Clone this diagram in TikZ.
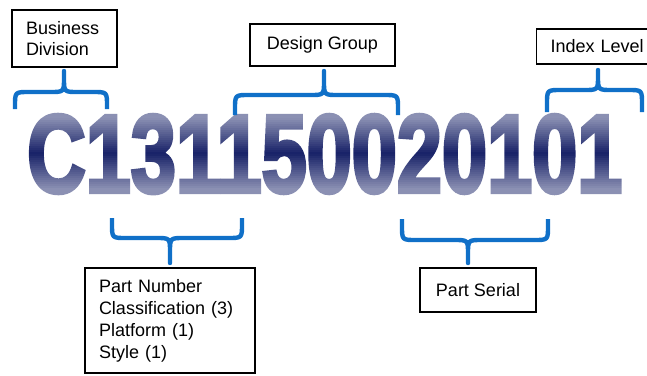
\documentclass[tikz,border=0pt]{standalone}
\usepackage{fontspec}
\setmainfont{Liberation Sans}
\newfontfamily\numfont{Liberation Sans}[BoldFeatures={FakeBold=4}]
\definecolor{braceblue}{RGB}{16,112,200}
\definecolor{numnavy}{RGB}{24,34,104}
\newcommand\drawbrace[7]{%
  \draw[brace] (#1,#4) -- (#1,{#5+14*#7}) .. controls (#1,#5) .. ({#1+14},#5) -- ({#3-14},#5) .. controls (#3,#5) .. (#3,{#5-14*#7}) -- (#3,#6) -- (#3,{#5-14*#7}) .. controls (#3,#5) .. ({#3+14},#5) -- ({#2-14},#5) .. controls (#2,#5) .. (#2,{#5+14*#7}) -- (#2,#4);}
\begin{document}
\begin{tikzpicture}[x=1pt,y=-1pt,
  brace/.style={draw=braceblue, line width=4.4pt, line join=round},
  lbox/.style={draw=black, line width=1.3pt, inner ysep=0pt, inner xsep=14pt, font=\fontsize{18}{21}\selectfont}]
\useasboundingbox (0,0) rectangle (647,375);
% code number
\node[anchor=base west, inner sep=0pt, text=numnavy] (code) at (27,192) {\resizebox{595pt}{77pt}{\numfont\bfseries C131150020101}};
\foreach \i in {0,...,41}{%
  \pgfmathsetmacro\yy{112+2*\i}%
  \pgfmathsetmacro\op{min(0.5,0.55*abs(\yy+1-153.5)/39)}%
  \fill[white, fill opacity=\op] (20,\yy) rectangle (630,\yy+2);
}
% braces
\drawbrace{15}{107}{64}{109}{92}{71}{1}
\drawbrace{235}{398}{324}{115}{95}{71}{1}
\drawbrace{547}{642}{598}{112}{90}{70}{1}
\drawbrace{112}{242}{170}{218}{238}{263}{-1}
\drawbrace{402}{548}{468}{219}{240}{263}{-1}
% boxes
\node[lbox, minimum width=105pt, minimum height=57pt, text width=77pt, align=left] (bdiv) at (64.5,38.5) {Business\\Division};
\node[lbox, minimum width=145pt, minimum height=42pt] (dgrp) at (322.5,45) {Design Group};
\node[lbox, anchor=west, minimum width=124pt, minimum height=35pt, text width=96pt, align=left] (idx) at (536,46.5) {Index Level};
\node[lbox, minimum width=170pt, minimum height=105pt, text width=142pt, align=left, font=\fontsize{18}{22}\selectfont] (pnum) at (170,320.5) {Part Number\\Classification (3)\\Platform (1)\\Style (1)};
\node[lbox, minimum width=116pt, minimum height=44pt] (pser) at (478,290) {Part Serial};
\end{tikzpicture}
\end{document}
